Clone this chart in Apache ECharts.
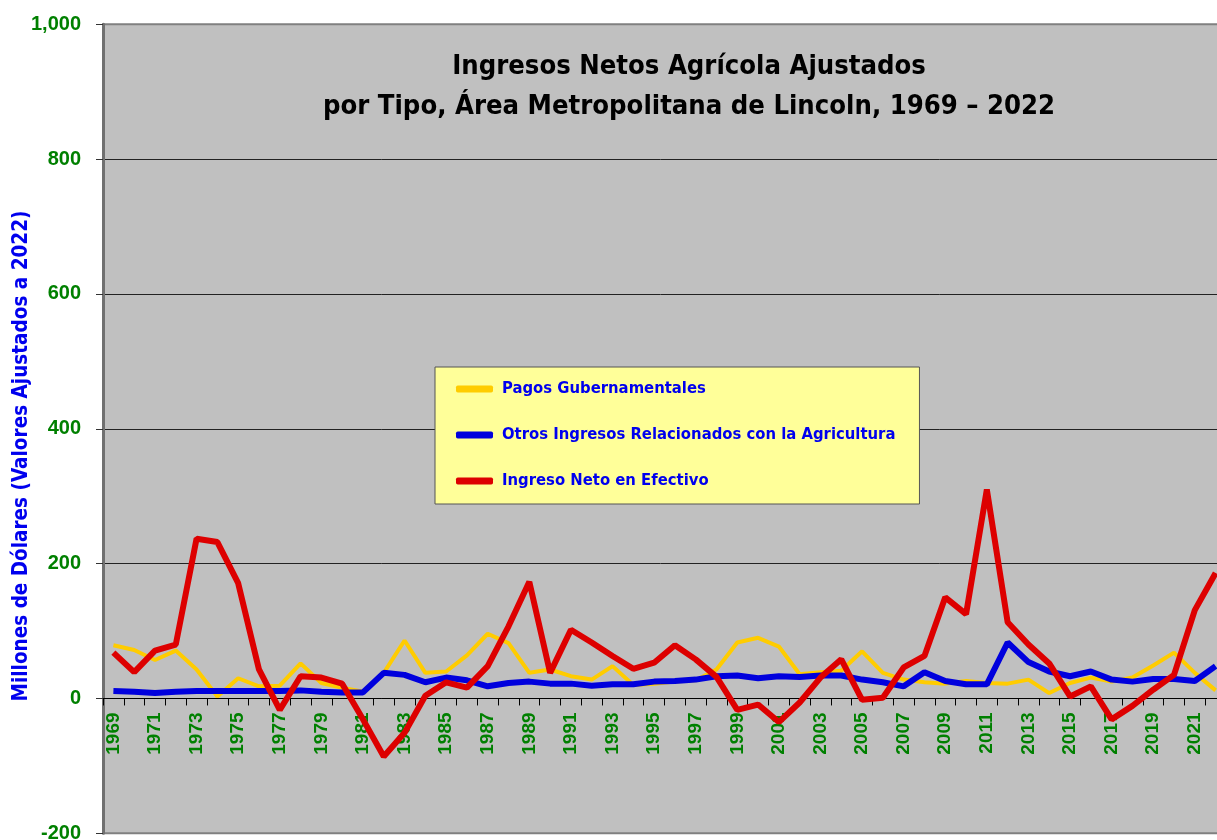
<!DOCTYPE html>
<html>
<head>
<meta charset="utf-8">
<script src="https://cdn.jsdelivr.net/npm/echarts@6/dist/echarts.min.js"></script>
<style>html,body{margin:0;padding:0;background:#fff;}#c{width:1217px;height:840px;}</style>
</head>
<body>
<div id="c"></div>
<script>
const years = [];
for (let y = 1969; y <= 2022; y++) years.push(String(y));

const pagosGubernamentales = [79,72,57,71,43,3,30,18,19,52,23,16,10,38,86,38,40,64,96,82,38,43,33,28,48,20,22,25,27,43,83,90,77,36,39,41,70,38,28,24,22,26,23,22,28,8,23,31,25,31,49,68,38,12];
const otrosIngresos = [11,10,8,10,11,11,11,11,11,12,10,9,9,38,35,24,31,27,18,23,25,22,22,19,21,21,25,26,28,33,34,30,33,32,34,34,28,24,18,39,26,21,21,83,54,40,33,40,28,25,29,29,26,48];
const ingresoNeto = [68,39,71,80,237,232,171,43,-17,33,31,22,-31,-86,-51,4,24,16,48,107,173,38,102,83,63,44,53,79,58,32,-17,-9,-35,-6,31,58,-2,1,46,63,150,125,310,113,80,52,3,18,-31,-11,13,35,131,186];

const yTicks = ['-200','0','200','400','600','800','1,000'];
const seriesNames = ['Pagos Gubernamentales','Otros Ingresos Relacionados con la Agricultura','Ingreso Neto en Efectivo'];

const chart = echarts.init(document.getElementById('c'), null, {renderer:'canvas'});
const narrow = '"Liberation Sans Narrow","DejaVu Sans Condensed","Liberation Sans",sans-serif';
const gridTop = 24.3, gridBottom = 6.7, H = 840;
const plotH = H - gridTop - gridBottom;
const zeroOffset = -(plotH * 200 / 1200);
chart.setOption({
  animation:false,
  backgroundColor:'#ffffff',
  title:{
    text:'Ingresos Netos Agrícola Ajustados\npor Tipo, Área Metropolitana de Lincoln, 1969 – 2022',
    left:684, top:42, textAlign:'center',
    textStyle:{fontFamily:narrow,fontWeight:'bold',fontSize:27.2,lineHeight:40,color:'#000'}
  },
  legend:{
    orient:'vertical', left:435, top:367, z:20,
    backgroundColor:'#ffff99', borderColor:'#555', borderWidth:1,
    padding:[12,24,13,21], itemGap:26, itemWidth:37, itemHeight:7,
    icon:'roundRect',
    textStyle:{fontFamily:narrow,fontWeight:'bold',fontSize:16.5,color:'#0000ee',lineHeight:20,padding:[0,0,0,4]},
    data:seriesNames
  },
  graphic:[{
    type:'text', x:22, y:456, rotation:Math.PI/2,
    style:{text:'Millones de Dólares (Valores Ajustados a 2022)',fill:'#0000ee',font:'bold 20.5px '+narrow,textAlign:'center',textVerticalAlign:'middle'}
  }],
  grid:{left:103, top:gridTop, right:-9, bottom:gridBottom, outerBoundsMode:'none', containLabel:false, show:true, backgroundColor:'#c0c0c0', borderColor:'#808080', borderWidth:2},
  xAxis:{
    type:'category', data:years, boundaryGap:true, position:'bottom', offset:zeroOffset, z:1,
    axisLine:{onZero:false, lineStyle:{color:'#000',width:1}},
    axisTick:{show:true, interval:0, length:7, inside:false, lineStyle:{color:'#000'}},
    axisLabel:{interval:1, rotate:90, margin:14, color:'#008000', fontWeight:'bold', fontSize:19, fontFamily:'"Liberation Sans",sans-serif', hideOverlap:false},
    splitLine:{show:false}
  },
  yAxis:{
    type:'value', min:-200, max:1000, interval:200, z:1,
    axisLine:{show:true, lineStyle:{color:'#707070',width:3}},
    axisTick:{show:true, length:7, lineStyle:{color:'#333'}},
    axisLabel:{margin:22, color:'#008000', fontWeight:'bold', fontSize:20, fontFamily:'"Liberation Sans",sans-serif',
      formatter:(v)=>yTicks[Math.round((v+200)/200)]},
    splitLine:{show:true, lineStyle:{color:['#808080','#222','#222','#222','#222','#222','#808080'],width:1}}
  },
  series:[
    {name:seriesNames[0], type:'line', data:pagosGubernamentales, showSymbol:false, symbol:'none', lineStyle:{color:'#ffcc00',width:4}, itemStyle:{color:'#ffcc00'}, z:5},
    {name:seriesNames[1], type:'line', data:otrosIngresos, showSymbol:false, symbol:'none', lineStyle:{color:'#0000dd',width:6}, itemStyle:{color:'#0000dd'}, z:6},
    {name:seriesNames[2], type:'line', data:ingresoNeto, showSymbol:false, symbol:'none', lineStyle:{color:'#dd0000',width:6}, itemStyle:{color:'#dd0000'}, z:7}
  ]
});
</script>
</body>
</html>
